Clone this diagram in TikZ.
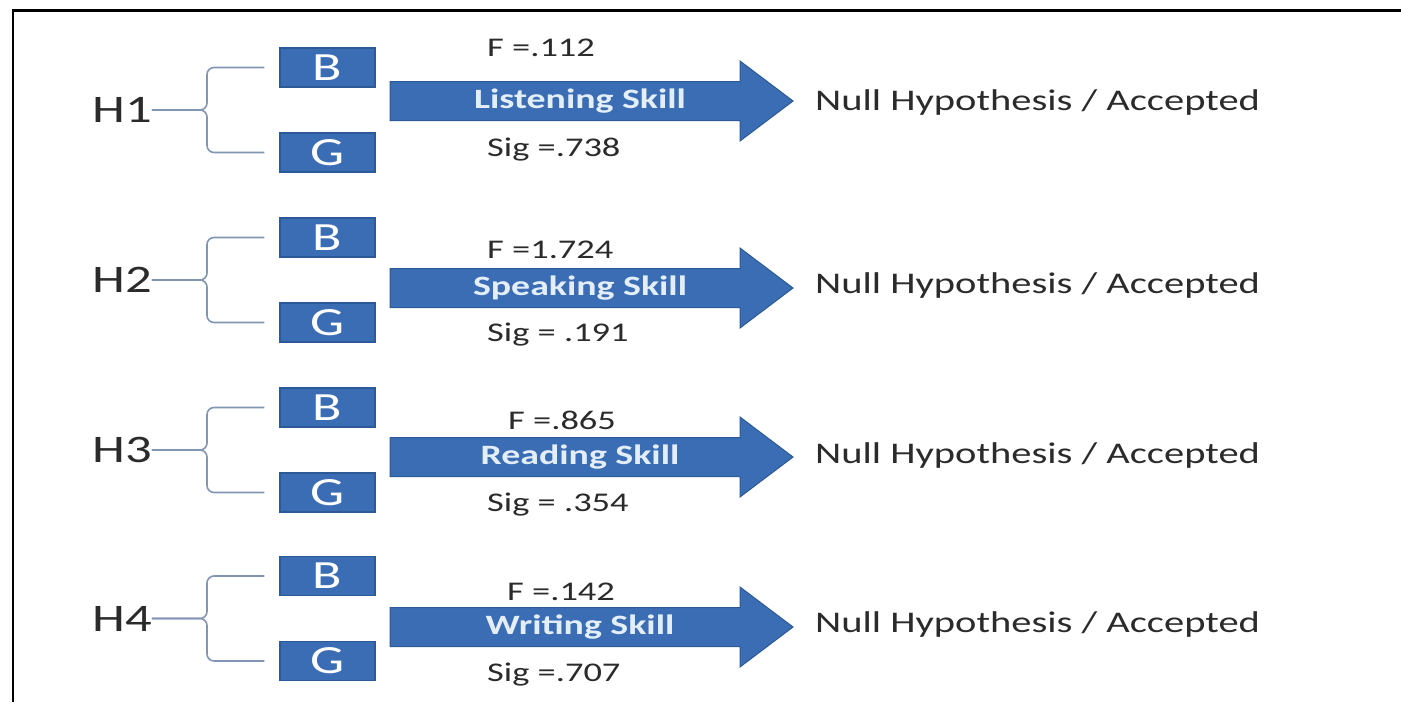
\documentclass[tikz,border=0pt]{standalone}
\usepackage{fontspec}
\setmainfont{Carlito}[FakeStretch=1.35]
\usetikzlibrary{calc}
\definecolor{boxblue}{HTML}{3B6DB4}
\definecolor{boxedge}{HTML}{2C5A96}
\definecolor{bracecol}{HTML}{8296B4}
\definecolor{txt}{HTML}{2B2B2B}
\definecolor{skilltxt}{HTML}{E4EEF8}
\begin{document}
\begin{tikzpicture}[x=1pt,y=-1pt,
  gbox/.style={draw=boxedge, line width=1.2pt, fill=boxblue, minimum width=95pt, minimum height=39pt, inner sep=0pt, text=white, font=\fontsize{40}{40}\selectfont},
  harrow/.style={draw=boxedge, line width=1pt, fill=boxblue, line join=miter},
  htext/.style={inner sep=0pt, text=txt, font=\fontsize{39}{39}\selectfont},
  stat/.style={inner sep=0pt, anchor=west, text=txt, font=\fontsize{27}{27}\selectfont},
  nulltext/.style={inner sep=0pt, anchor=west, text=txt, font=\fontsize{30}{30}\selectfont},
  skill/.style={inner sep=0pt, text=skilltxt, font=\fontsize{28}{28}\selectfont\bfseries},
  brace/.style={draw=bracecol, line width=1.6pt, rounded corners=7pt}
]
\useasboundingbox (0,0) rectangle (1401,702);
\fill[white] (0,0) rectangle (1401,702);
\draw[line width=2.5pt] (13,702) -- (13,10.5) -- (1401,10.5);
\foreach \i/\yb/\yg/\ya/\yf/\ys/\yn/\xf/\F/\S/\sk in {
  1/67.5/152.5/101/48/150/102/487/{F =.112}/{Sig =.738}/{Listening Skill},
  2/237.5/322.5/288/250/335/285/487/{F =1.724}/{Sig = .191}/{Speaking Skill},
  3/407.5/492.5/457/420/505/455/508/{F =.865}/{Sig = .354}/{Reading Skill},
  4/576/661/627/592/675/624/507/{F =.142}/{Sig =.707}/{Writing Skill}}{
  \node[gbox] (b\i) at (327.5,\yb) {B};
  \node[gbox] (g\i) at (327.5,\yg) {G};
  \node[htext] (h\i) at (122,{(\yb+\yg)/2}) {H\i};
  \coordinate (k\i) at (207,{(\yb+\yg)/2});
  \coordinate (bt\i) at ($(b\i.west)+(-15,0)$);
  \coordinate (gt\i) at ($(g\i.west)+(-15,0)$);
  \draw[brace] (bt\i) -- (k\i |- bt\i) -- (k\i) -- (h\i.east);
  \draw[brace] (gt\i) -- (k\i |- gt\i) -- (k\i) -- (h\i.east);
  \coordinate (a\i) at (390,\ya);
  \path[harrow] (a\i) ++(0,-19.5) -- ++(350,0) -- ++(0,-20.5) -- ++(53,40)
     -- ++(-53,40) -- ++(0,-20.5) -- ++(-350,0) -- cycle;
  \node[skill] (s\i) at (580,\ya) {\sk};
  \node[stat] (f\i) at (\xf,\yf) {\F};
  \node[stat] (sg\i) at (487,\ys) {\S};
  \node[nulltext] (n\i) at (815,\yn) {Null Hypothesis / Accepted};
}
\end{tikzpicture}
\end{document}
